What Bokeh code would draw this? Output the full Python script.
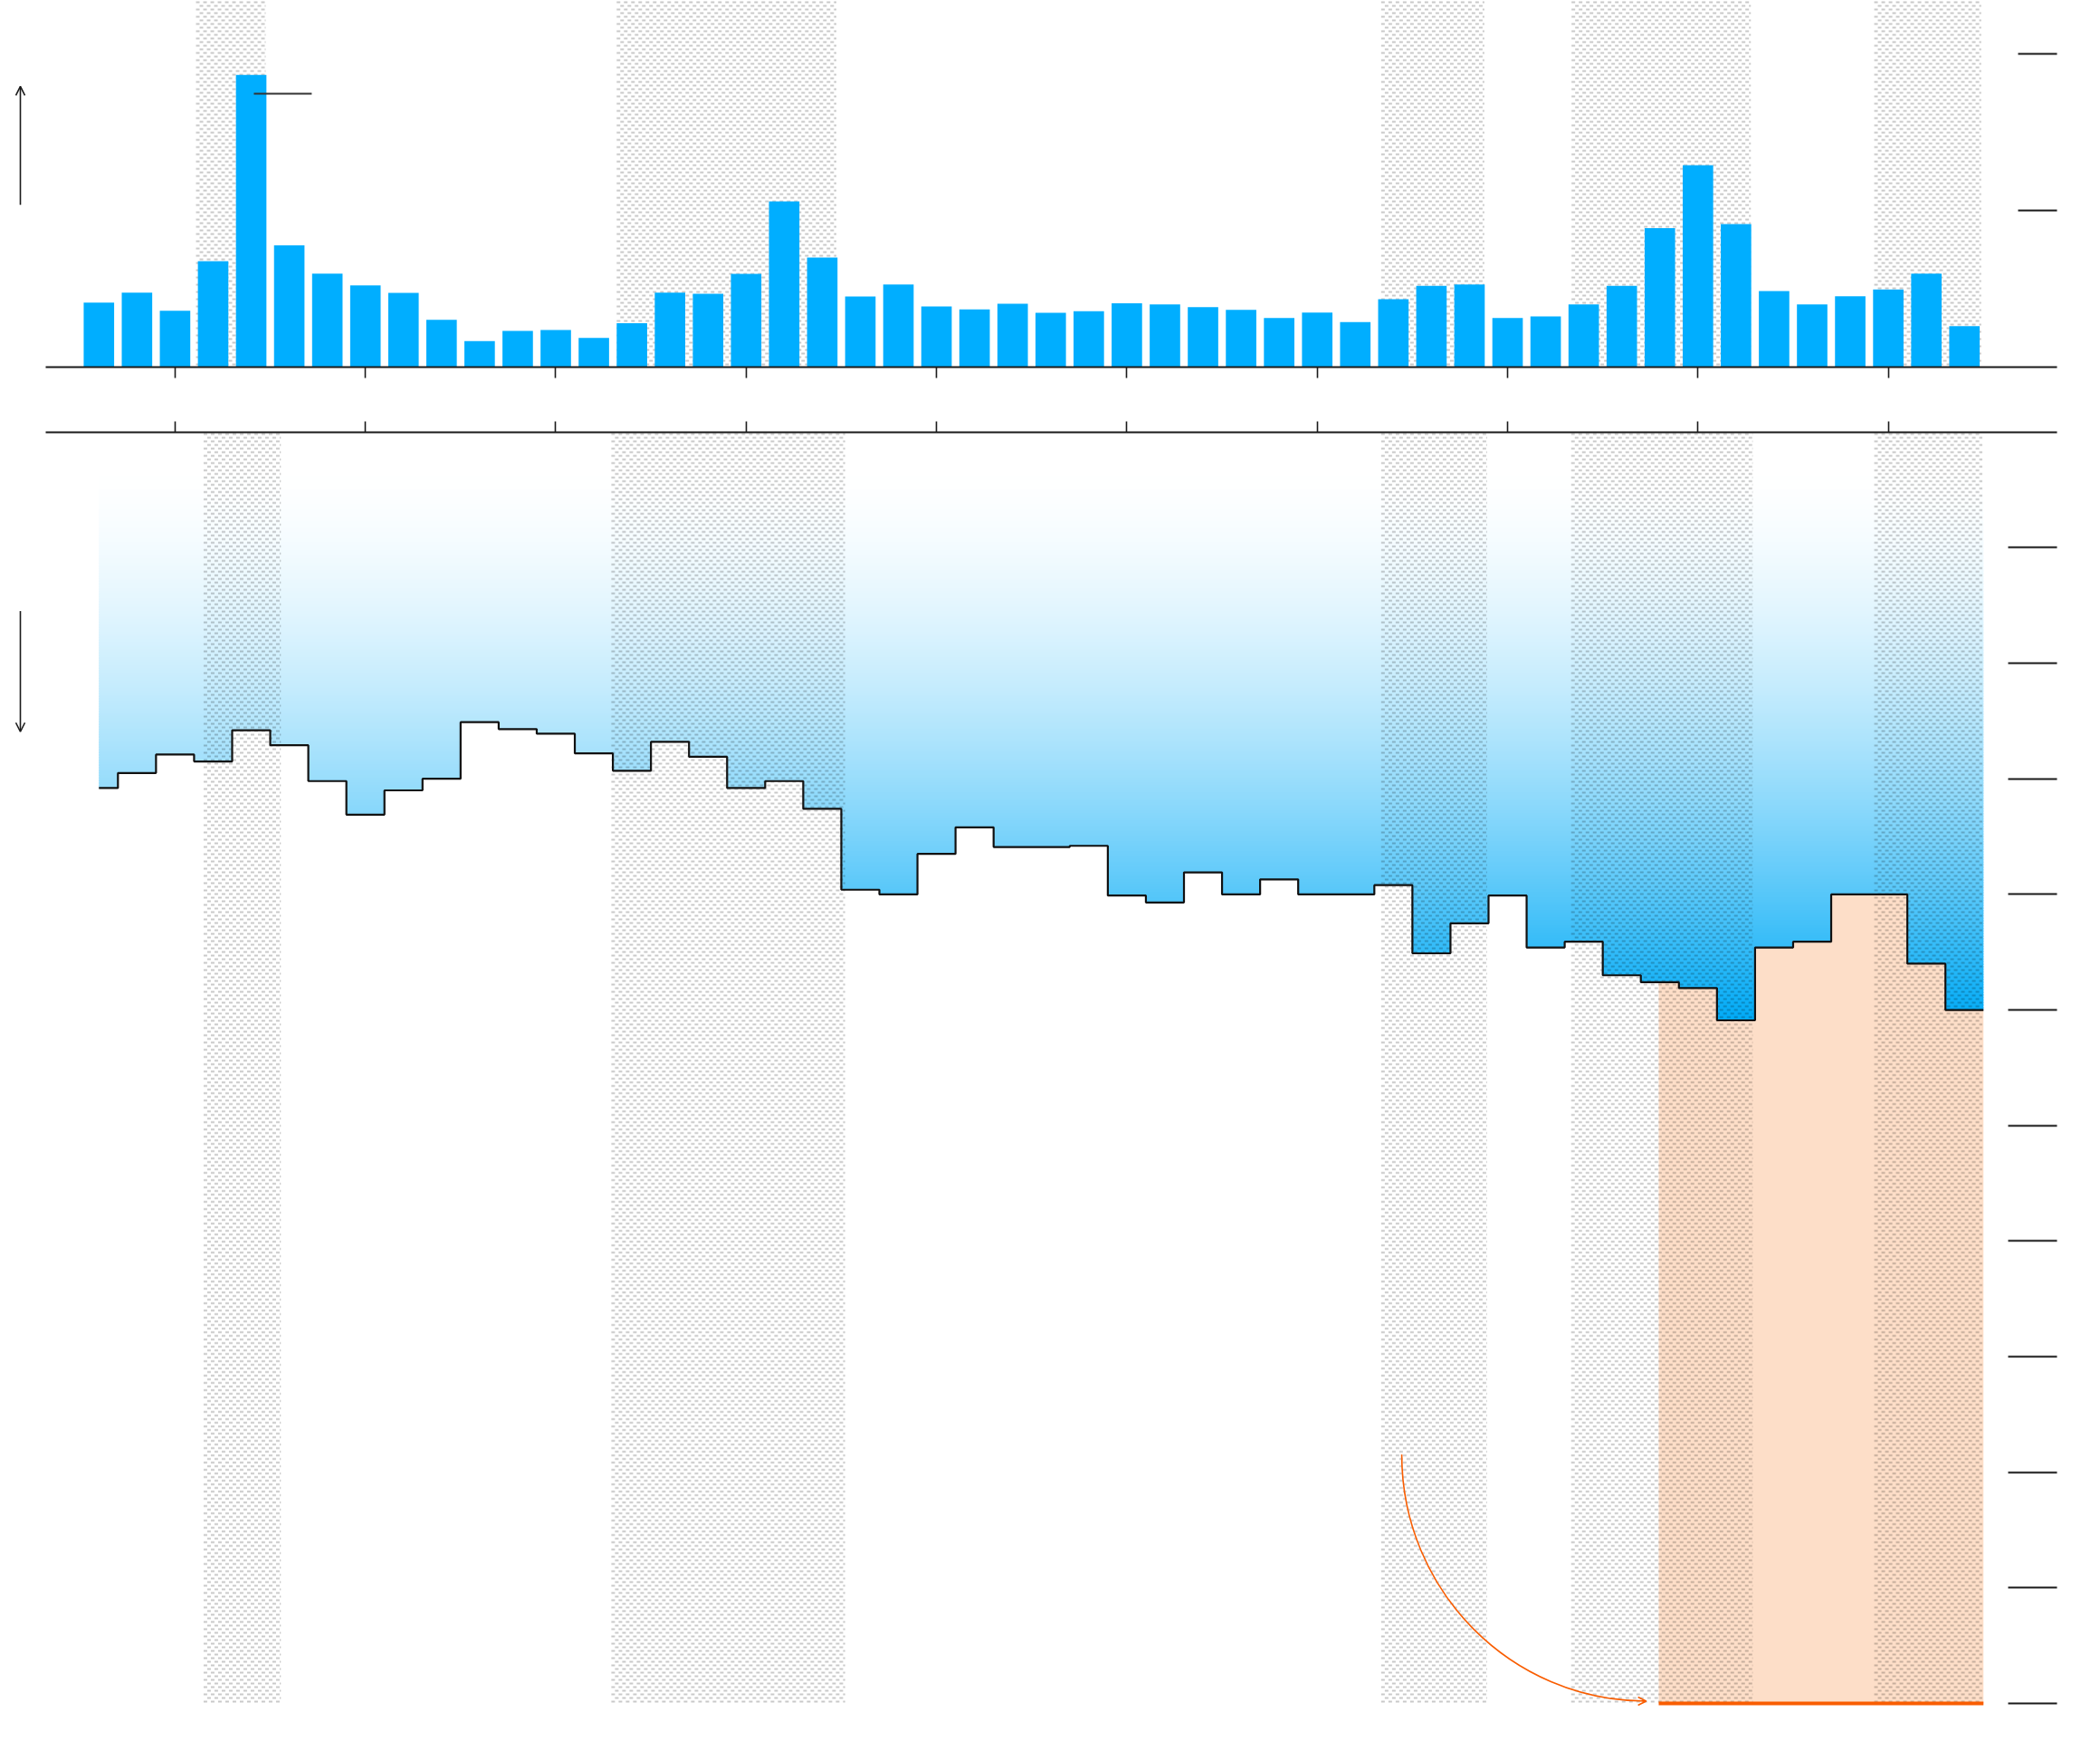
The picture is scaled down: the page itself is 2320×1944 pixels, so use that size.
import numpy as np
from bokeh.plotting import figure
from bokeh.layouts import column
from bokeh.models import (Range1d, LinearAxis, FixedTicker, CustomJSTickFormatter,
                          Arrow, OpenHead)
from bokeh.embed import file_html
from bokeh.resources import INLINE

# ---------------- data ----------------
years = list(range(1973, 2023))

bar_values = [0.412, 0.476, 0.360, 0.676, 1.865, 0.778, 0.597, 0.522, 0.474, 0.302,
              0.166, 0.231, 0.237, 0.186, 0.280, 0.476, 0.468, 0.596, 1.058, 0.699,
              0.451, 0.528, 0.387, 0.368, 0.405, 0.347, 0.357, 0.408, 0.400, 0.383,
              0.365, 0.314, 0.348, 0.288, 0.434, 0.519, 0.528, 0.314, 0.323, 0.400,
              0.519, 0.887, 1.289, 0.913, 0.485, 0.400, 0.453, 0.495, 0.597, 0.262]

step_values = [2.08, 1.95, 1.79, 1.85, 1.58, 1.71, 2.02, 2.31, 2.10, 2.00,
               1.51, 1.57, 1.61, 1.78, 1.93, 1.68, 1.81, 2.08, 2.02, 2.26,
               2.96, 3.00, 2.65, 2.42, 2.59, 2.59, 2.58, 3.01, 3.07, 2.81,
               3.00, 2.87, 3.00, 3.00, 2.92, 3.51, 3.25, 3.01, 3.46, 3.41,
               3.70, 3.76, 3.81, 4.09, 3.46, 3.41, 3.00, 3.00, 3.60, 4.00]

top_band_start = [1975.55, 1986.60, 2006.68, 2011.68, 2019.63]
top_band_end = [1977.38, 1992.37, 2009.39, 2016.39, 2022.44]
low_band_start = [1975.75, 1986.46, 2006.68, 2011.67, 2019.63]
low_band_end = [1977.78, 1992.60, 2009.46, 2016.44, 2022.47]

orange_start = 2013.97
orange_level = 10

x_ticks = list(range(1975, 2021, 5))
top_y_ticks = [1, 2]
low_y_ticks = list(range(0, 11))

# ---------------- styles / layout ----------------
BAR_BLUE = "#00aeff"
INK = "#1a1a1a"
ORANGE = "#f95d00"
PEACH = "#fddec8"
X_START, X_END = 1970.414, 2024.431
AXIS_BOUND_START = 1971.602
TOP_Y_END = 2.341
TOP_FRAME_PX = 405
LOW_Y_BOTTOM, LOW_Y_TOP = 10.149, -0.998
LOW_FRAME_PX = 1423
GRAD_TOP, GRAD_FULL, GRAD_BOTTOM = -0.708, 4.1, 4.15
W = 2292

xr = Range1d(X_START, X_END)


def blank():
    return CustomJSTickFormatter(code="return ''")


def add_hatch(p, starts, ends, v_first, v_last, units_per_px):
    """Brick pattern of short grey dashes (4px long, 2px thick, rows every 4px)."""
    span_px = abs(v_last - v_first) / units_per_px
    n = int((span_px - 2) // 4) + 1
    direction = np.sign(v_last - v_first)
    rows = v_first + direction * (2 + 4 * np.arange(n)) * units_per_px
    for parity, offset in ((0, 0), (1, 4)):
        rv = rows[parity::2]
        x0 = np.repeat(starts, len(rv))
        x1 = np.repeat(ends, len(rv))
        yy = np.tile(rv, len(starts))
        p.segment(x0=x0, y0=yy, x1=x1, y1=yy, line_color="black", line_alpha=0.21,
                  line_width=2, line_dash="4 4", line_dash_offset=offset, line_cap="butt")


# ---------------- top chart ----------------
p1 = figure(width=W, height=441, x_range=xr, y_range=Range1d(0, TOP_Y_END),
            output_backend="svg", toolbar_location=None,
            x_axis_location=None, y_axis_location=None,
            min_border_left=0, min_border_top=0, min_border_right=20, min_border_bottom=36)
p1.outline_line_color = None
p1.grid.visible = False

add_hatch(p1, top_band_start, top_band_end, TOP_Y_END, 0, TOP_Y_END / TOP_FRAME_PX)
p1.vbar(x=years, top=bar_values, bottom=0, width=0.8, fill_color=BAR_BLUE, line_color=None)
p1.segment(x0=[1977.07], y0=[1.746], x1=[1978.59], y1=[1.746], line_color="#333333", line_width=2)
p1.add_layout(Arrow(end=OpenHead(size=10, line_width=1.6, line_color=INK),
                    x_start=1970.937, y_start=1.036, x_end=1970.937, y_end=1.792,
                    line_width=1.6, line_color=INK))

ax1 = LinearAxis(ticker=FixedTicker(ticks=x_ticks), formatter=blank(),
                 bounds=(AXIS_BOUND_START, X_END), major_tick_in=0, major_tick_out=12,
                 minor_tick_line_color=None, axis_line_width=2, axis_line_color=INK,
                 major_tick_line_width=1.6, major_tick_line_color=INK, major_label_standoff=0)
p1.add_layout(ax1, "below")
ay1 = LinearAxis(ticker=FixedTicker(ticks=top_y_ticks), formatter=blank(),
                 major_tick_in=43, major_tick_out=0, minor_tick_line_color=None,
                 axis_line_color=None, major_tick_line_width=2, major_tick_line_color=INK,
                 major_label_standoff=0)
p1.add_layout(ay1, "right")

# ---------------- bottom chart ----------------
p2 = figure(width=W, height=1469, x_range=xr, y_range=Range1d(LOW_Y_BOTTOM, LOW_Y_TOP),
            output_backend="svg", toolbar_location=None,
            x_axis_location=None, y_axis_location=None,
            min_border_left=0, min_border_top=36, min_border_right=20, min_border_bottom=10)
p2.outline_line_color = None
p2.grid.visible = False

x_edges = [years[0]] + [y + 0.5 for y in years]
step_ext = step_values + [step_values[-1]]

# vertical gradient: white at top -> blue near the deepest step
n = 220
edges = np.linspace(GRAD_TOP, GRAD_BOTTOM, n + 1)
mids = (edges[:-1] + edges[1:]) / 2
frac = np.clip((mids - GRAD_TOP) / (GRAD_FULL - GRAD_TOP), 0, 1) ** 1.6
c0 = np.array([255, 255, 255])
c1 = np.array([0, 170, 246])
cols = ["#%02x%02x%02x" % tuple(int(round(v)) for v in (c0 * (1 - f) + c1 * f)) for f in frac]
step_h = edges[1] - edges[0]
p2.quad(left=x_edges[0], right=x_edges[-1], top=edges[:-1], bottom=edges[1:] + step_h * 0.6,
        fill_color=cols, line_color=None)
# white mask below the step line (slightly wider than the gradient to hide its edges)
mask_x = [x_edges[0] - 0.3] + x_edges[1:-1] + [x_edges[-1] + 0.3]
p2.varea_step(x=mask_x, y1=step_ext, y2=[GRAD_BOTTOM + 0.3] * len(mask_x),
              step_mode="after", fill_color="white")

# orange area from step line down to the orange level
i0 = max(i for i, e in enumerate(x_edges) if e <= orange_start)
ox = [orange_start] + x_edges[i0 + 1:]
oy = step_values[i0:] + [step_values[-1]]
p2.varea_step(x=ox, y1=oy, y2=[orange_level] * len(ox), step_mode="after", fill_color=PEACH)

add_hatch(p2, low_band_start, low_band_end, LOW_Y_TOP, orange_level,
          (LOW_Y_BOTTOM - LOW_Y_TOP) / LOW_FRAME_PX)

p2.segment(x0=[orange_start], y0=[orange_level], x1=[x_edges[-1]], y1=[orange_level],
           line_color=ORANGE, line_width=4)
p2.step(x=x_edges, y=step_ext, mode="after", line_color="#111111", line_width=2.2)

# curved orange arrow
cs_x, cs_y, ce_x, ce_y = 2007.22, 7.846, 2013.64, 9.98
k = 0.5523
p2.bezier(x0=[cs_x], y0=[cs_y], x1=[ce_x], y1=[ce_y],
          cx0=[cs_x], cy0=[cs_y + k * (ce_y - cs_y)],
          cx1=[ce_x - k * (ce_x - cs_x)], cy1=[ce_y],
          line_color=ORANGE, line_width=1.6)
p2.add_layout(Arrow(end=OpenHead(size=9, line_width=1.6, line_color=ORANGE),
                    x_start=ce_x - 0.1, y_start=ce_y, x_end=ce_x, y_end=ce_y,
                    line_width=1.6, line_color=ORANGE))

p2.add_layout(Arrow(end=OpenHead(size=10, line_width=1.6, line_color=INK),
                    x_start=1970.937, y_start=0.549, x_end=1970.937, y_end=1.593,
                    line_width=1.6, line_color=INK))

ax2 = LinearAxis(ticker=FixedTicker(ticks=x_ticks), formatter=blank(),
                 bounds=(AXIS_BOUND_START, X_END), major_tick_in=0, major_tick_out=12,
                 minor_tick_line_color=None, axis_line_width=2, axis_line_color=INK,
                 major_tick_line_width=1.6, major_tick_line_color=INK, major_label_standoff=0)
p2.add_layout(ax2, "above")
ay2 = LinearAxis(ticker=FixedTicker(ticks=low_y_ticks), formatter=blank(),
                 major_tick_in=54, major_tick_out=0, minor_tick_line_color=None,
                 axis_line_color=None, major_tick_line_width=2, major_tick_line_color=INK,
                 major_label_standoff=0)
p2.add_layout(ay2, "right")

layout = column(p1, p2, spacing=0)
open("out.html", "w").write(file_html(layout, INLINE))
